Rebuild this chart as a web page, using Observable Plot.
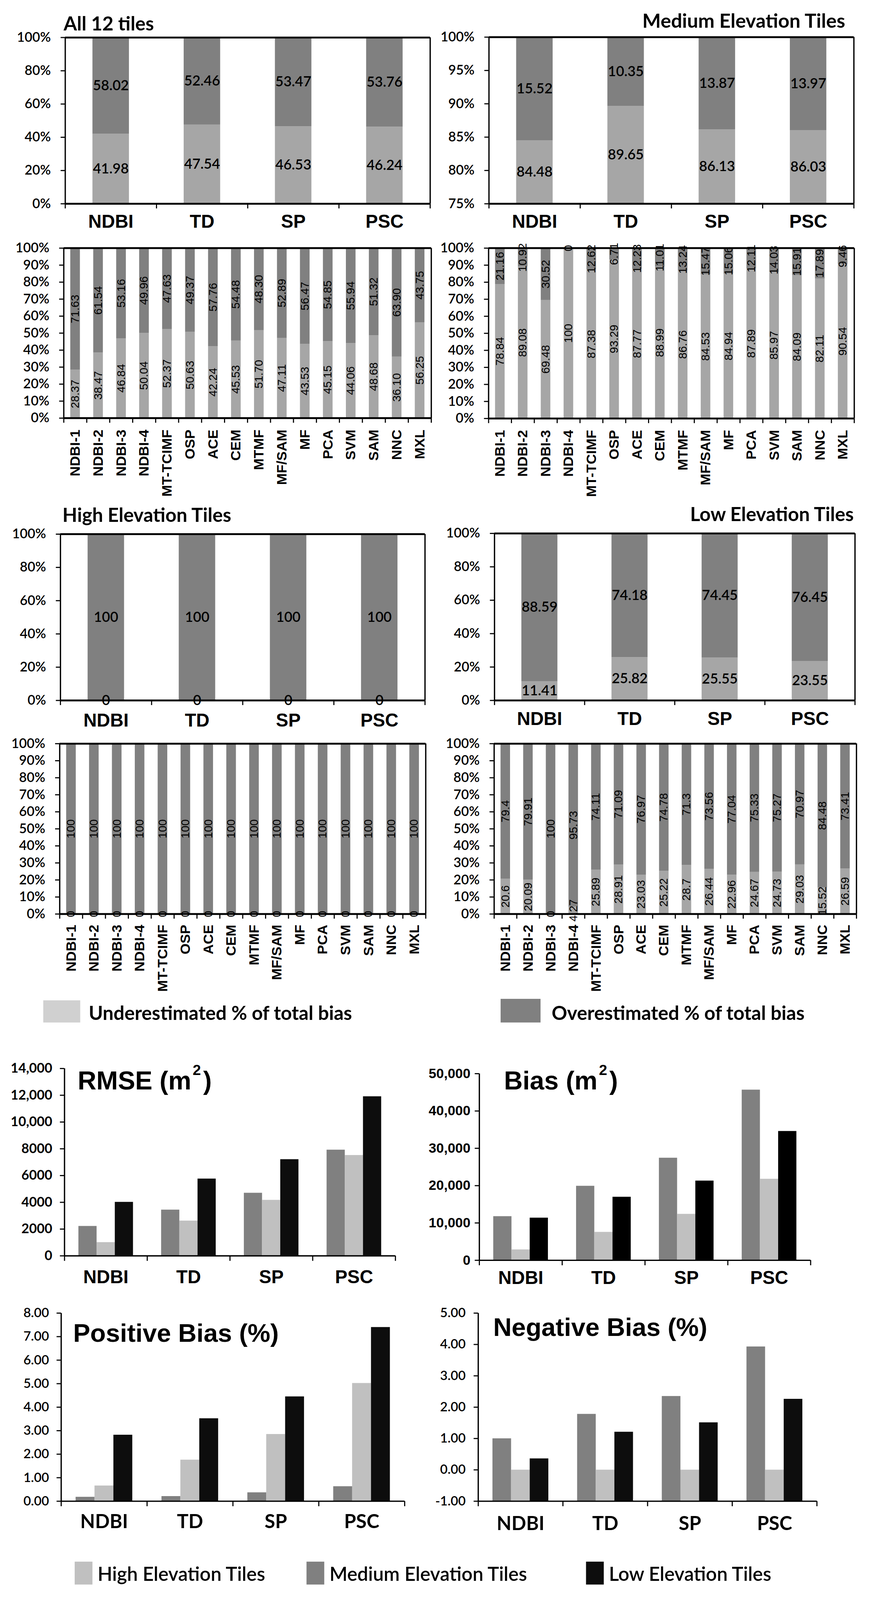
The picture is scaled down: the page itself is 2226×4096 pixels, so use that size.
<!DOCTYPE html>
<html><head><meta charset="utf-8">
<script src="https://cdn.jsdelivr.net/npm/d3@7"></script>
<script src="https://cdn.jsdelivr.net/npm/@observablehq/plot@0.6"></script>
<style>
html,body{margin:0;padding:0;background:#fff;overflow:hidden;}
#viewport{position:relative;width:2226px;height:4096px;overflow:hidden;background:#fff;}
#page{position:absolute;left:0;top:0;width:2351px;height:4326px;transform:scale(0.946);transform-origin:0 0;}
#page > svg{position:absolute;}
</style></head><body>
<div id="viewport"><div id="page"></div></div>
<script>
// ---------------- DATA ----------------
const methods4 = ["NDBI", "TD", "SP", "PSC"];
const methods16 = ["NDBI-1","NDBI-2","NDBI-3","NDBI-4","MT-TCIMF","OSP","ACE","CEM","MTMF","MF/SAM","MF","PCA","SVM","SAM","NNC","MXL"];

// stacked: underestimated / overestimated % of total bias
const allUnder4 = [41.98, 47.54, 46.53, 46.24];
const allOver4  = [58.02, 52.46, 53.47, 53.76];
const medUnder4 = [84.48, 89.65, 86.13, 86.03];
const medOver4  = [15.52, 10.35, 13.87, 13.97];
const highUnder4 = [0, 0, 0, 0];
const highOver4  = [100, 100, 100, 100];
const lowUnder4 = [11.41, 25.82, 25.55, 23.55];
const lowOver4  = [88.59, 74.18, 74.45, 76.45];

const allUnder16 = [28.37,38.47,46.84,50.04,52.37,50.63,42.24,45.53,51.70,47.11,43.53,45.15,44.06,48.68,36.10,56.25];
const allOver16  = [71.63,61.54,53.16,49.96,47.63,49.37,57.76,54.48,48.30,52.89,56.47,54.85,55.94,51.32,63.90,43.75];
const medUnder16 = [78.84,89.08,69.48,100,87.38,93.29,87.77,88.99,86.76,84.53,84.94,87.89,85.97,84.09,82.11,90.54];
const medOver16  = [21.16,10.92,30.52,0,12.62,6.71,12.23,11.01,13.24,15.47,15.06,12.11,14.03,15.91,17.89,9.46];
const highUnder16 = [0,0,0,0,0,0,0,0,0,0,0,0,0,0,0,0];
const highOver16  = [100,100,100,100,100,100,100,100,100,100,100,100,100,100,100,100];
const lowUnder16 = [20.6,20.09,0,4.27,25.89,28.91,23.03,25.22,28.7,26.44,22.96,24.67,24.73,29.03,15.52,26.59];
const lowOver16  = [79.4,79.91,100,95.73,74.11,71.09,76.97,74.78,71.3,73.56,77.04,75.33,75.27,70.97,84.48,73.41];

// grouped: Medium, High, Low elevation tiles
const rmseMedium = [2220, 3440, 4700, 7920];
const rmseHigh   = [1010, 2620, 4170, 7520];
const rmseLow    = [4020, 5760, 7210, 11910];
const biasMedium = [11770, 19910, 27430, 45670];
const biasHigh   = [2860, 7560, 12390, 21790];
const biasLow    = [11370, 16970, 21300, 34590];
const posMedium = [0.18, 0.21, 0.37, 0.63];
const posHigh   = [0.66, 1.76, 2.85, 5.02];
const posLow    = [2.82, 3.52, 4.45, 7.40];
const negMedium = [1.00, 1.78, 2.35, 3.93];
const negHigh   = [0, 0, 0, 0];
const negLow    = [0.36, 1.21, 1.51, 2.26];

// tick values
const ticksPct20 = [0, 20, 40, 60, 80, 100];
const ticksPct10 = [0, 10, 20, 30, 40, 50, 60, 70, 80, 90, 100];
const ticksMed5  = [75, 80, 85, 90, 95, 100];
const ticksRmse  = [0, 2000, 4000, 6000, 8000, 10000, 12000, 14000];
const ticksBias  = [0, 10000, 20000, 30000, 40000, 50000];
const ticksPos   = [0, 1, 2, 3, 4, 5, 6, 7, 8];
const ticksNeg   = [-1, 0, 1, 2, 3, 4, 5];

// text
const panelTitles = ["All 12 tiles", "Medium Elevation Tiles", "High Elevation Tiles", "Low Elevation Tiles"];
const legendTop = ["Underestimated % of total bias", "Overestimated % of total bias"];
const legendBottom = ["High Elevation Tiles", "Medium Elevation Tiles", "Low Elevation Tiles"];

// ---------------- STYLE / LAYOUT ----------------
const C = {under: "#A6A6A6", over: "#808080", underLegend: "#D0D0D0",
           medium: "#808080", high: "#C0C0C0", low: "#0D0D0D"};
const ARIAL = "Liberation Sans, Arial, sans-serif";
const CALI = "Lato, Liberation Sans, sans-serif";

const L = {
  A: {L:176, R:1163, T:101, B:551, catPad:29},
  B: {L:1322, R:2309, T:100, B:551, catPad:29},
  C: {L:172, R:1166, T:671, B:1131, catPad:31},
  D: {L:1321, R:2310, T:671, B:1132, catPad:31},
  E: {L:163, R:1149, T:1445, B:1895, catPad:35},
  F: {L:1337, R:2312, T:1443, B:1895, catPad:31},
  G: {L:161, R:1151, T:2012, B:2473, catPad:29},
  H: {L:1336, R:2316, T:2012, B:2473, catPad:29},
  RMSE: {L:174, R:1069, T:2891, B:3398, catPad:39, tickPad:21},
  BIAS: {L:1296, R:2192, T:2905, B:3410, catPad:29, tickPad:12},
  POS: {L:165, R:1094, T:3553, B:4062, catPad:36, tickPad:21},
  NEG: {L:1293, R:2209, T:3553, B:4062, catPad:41, tickPad:22}
};

const page = document.getElementById("page");

function place(svg, f, mL, mT) {
  svg.style.left = (f.L - mL) + "px";
  svg.style.top = (f.T - mT) + "px";
  page.appendChild(svg);
}

function stackedPanel(cats, under, over, f, yDomain, yTicks, rotated, fmt) {
  const n = cats.length;
  const mL = 170, mR = 20, mT = 60, mB = rotated ? 260 : 110;
  const inset = rotated ? 0.29 : 0.30;
  const lo = yDomain[0];
  const rows = [];
  cats.forEach((c, i) => {
    rows.push({i, kind: "under", y1: 0, y2: under[i], v: under[i]});
    rows.push({i, kind: "over", y1: under[i], y2: under[i] + over[i], v: over[i]});
  });
  rows.forEach(r => { r.ym = (Math.max(r.y1, lo) + r.y2) / 2; r.label = fmt(r.v); });
  const uRows = rows.filter(r => r.kind === "under");
  const oRows = rows.filter(r => r.kind === "over");
  const valueFont = rotated
    ? {fontFamily: ARIAL, fontSize: 31, fontWeight: "normal", rotate: -90}
    : {fontFamily: CALI, fontSize: 38, fontWeight: 600};
  const svg = Plot.plot({
    width: f.R - f.L + mL + mR, height: f.B - f.T + mT + mB,
    marginLeft: mL, marginRight: mR, marginTop: mT, marginBottom: mB,
    x: {domain: [0, n]},
    y: {domain: yDomain},
    style: {overflow: "visible", background: "transparent", color: "#000"},
    marks: [
      Plot.rectY(uRows, {x1: r => r.i + inset, x2: r => r.i + 1 - inset, y1: "y1", y2: "y2", fill: C.under, clip: true}),
      Plot.rectY(oRows, {x1: r => r.i + inset, x2: r => r.i + 1 - inset, y1: "y1", y2: "y2", fill: C.over, clip: true}),
      Plot.ruleY(yDomain, {strokeWidth: 5}),
      Plot.ruleX([0, n], {strokeWidth: 3.5}),
      Plot.axisY(yTicks, {tickSize: 12, tickPadding: 27, strokeWidth: 3, tickFormat: d => d + "%",
        fontFamily: CALI, fontSize: 36, fontWeight: 600, label: null}),
      Plot.axisX(d3.range(n + 1), {tickSize: 13, strokeWidth: 3, fill: "none", label: null}),
      Plot.axisX(d3.range(n).map(i => i + 0.5), {tickSize: 0, tickPadding: f.catPad,
        tickFormat: d => cats[Math.floor(d)], tickRotate: rotated ? -90 : 0,
        fontFamily: ARIAL, fontWeight: "bold", fontSize: rotated ? 38 : 50, label: null}),
      Plot.text(rows, {x: r => r.i + 0.5, y: "ym", text: "label", fill: "#000", ...valueFont})
    ]
  });
  place(svg, f, mL, mT);
}

function groupedPanel(cats, series, f, yDomain, yTicks, tickFmt, tickFont, catFont) {
  const n = cats.length;
  const mL = 180, mR = 20, mT = 20, mB = 120;
  const base = yDomain[0];
  const rows = [];
  series.forEach((s, k) => s.values.forEach((v, i) => {
    rows.push({k, i, x1: i + 0.17 + k * 0.22, x2: i + 0.17 + (k + 1) * 0.22, y1: base, y2: v, fill: s.color});
  }));
  const svg = Plot.plot({
    width: f.R - f.L + mL + mR, height: f.B - f.T + mT + mB,
    marginLeft: mL, marginRight: mR, marginTop: mT, marginBottom: mB,
    x: {domain: [0, n]},
    y: {domain: yDomain},
    style: {overflow: "visible", background: "transparent", color: "#000"},
    marks: [
      ...series.map((s, k) => Plot.rectY(rows.filter(r => r.k === k),
        {x1: "x1", x2: "x2", y1: "y1", y2: "y2", fill: s.color})),
      Plot.ruleX([0], {strokeWidth: 3.5}),
      Plot.ruleY([base], {strokeWidth: 3.5}),
      Plot.axisY(yTicks, {tickSize: 12, tickPadding: f.tickPad, strokeWidth: 3, tickFormat: tickFmt, label: null, ...tickFont}),
      Plot.axisX(d3.range(n + 1), {tickSize: 14, strokeWidth: 3, fill: "none", label: null}),
      Plot.axisX(d3.range(n).map(i => i + 0.5), {tickSize: 0, tickPadding: f.catPad,
        tickFormat: d => cats[Math.floor(d)], label: null, ...catFont})
    ]
  });
  place(svg, f, mL, mT);
}

const fmtGeneral = v => String(v);
const fmtFixed2 = v => v.toFixed(2);

stackedPanel(methods4, allUnder4, allOver4, L.A, [0, 100], ticksPct20, false, fmtGeneral);
stackedPanel(methods4, medUnder4, medOver4, L.B, [75, 100], ticksMed5, false, fmtGeneral);
stackedPanel(methods16, allUnder16, allOver16, L.C, [0, 100], ticksPct10, true, fmtFixed2);
stackedPanel(methods16, medUnder16, medOver16, L.D, [0, 100], ticksPct10, true, fmtGeneral);
stackedPanel(methods4, highUnder4, highOver4, L.E, [0, 100], ticksPct20, false, fmtGeneral);
stackedPanel(methods4, lowUnder4, lowOver4, L.F, [0, 100], ticksPct20, false, fmtGeneral);
stackedPanel(methods16, highUnder16, highOver16, L.G, [0, 100], ticksPct10, true, fmtGeneral);
stackedPanel(methods16, lowUnder16, lowOver16, L.H, [0, 100], ticksPct10, true, fmtGeneral);

const arialCat = {fontFamily: ARIAL, fontWeight: "bold", fontSize: 50};
const caliCat = {fontFamily: CALI, fontWeight: "bold", fontSize: 52};

groupedPanel(methods4,
  [{values: rmseMedium, color: C.medium}, {values: rmseHigh, color: C.high}, {values: rmseLow, color: C.low}],
  L.RMSE, [0, 14000], ticksRmse, d => d >= 10000 ? d3.format(",")(d) : String(d),
  {fontFamily: CALI, fontWeight: "bold", fontSize: 36}, arialCat);
groupedPanel(methods4,
  [{values: biasMedium, color: C.medium}, {values: biasHigh, color: C.high}, {values: biasLow, color: "#000"}],
  L.BIAS, [0, 50000], ticksBias, d => d === 0 ? "0" : d3.format(",")(d),
  {fontFamily: ARIAL, fontWeight: "bold", fontSize: 37}, arialCat);
groupedPanel(methods4,
  [{values: posMedium, color: C.medium}, {values: posHigh, color: C.high}, {values: posLow, color: C.low}],
  L.POS, [0, 8], ticksPos, d => d.toFixed(2),
  {fontFamily: CALI, fontWeight: 600, fontSize: 35}, caliCat);
groupedPanel(methods4,
  [{values: negMedium, color: C.medium}, {values: negHigh, color: C.high}, {values: negLow, color: C.low}],
  L.NEG, [-1, 5], ticksNeg, d => d.toFixed(2),
  {fontFamily: CALI, fontWeight: 600, fontSize: 35}, caliCat);

// ---------------- OVERLAY: titles & legends ----------------
const ov = d3.select(page).append("svg")
  .attr("width", 2351).attr("height", 4326)
  .style("left", "0px").style("top", "0px").style("overflow", "visible").style("pointer-events", "none");

function txt(x, y, s, size, family, weight, anchor) {
  return ov.append("text").attr("x", x).attr("y", y).attr("font-size", size)
    .attr("font-family", family).attr("font-weight", weight)
    .attr("text-anchor", anchor || "start").attr("fill", "#000").text(s);
}
txt(172, 82, panelTitles[0], 52, CALI, "bold");
txt(2286, 75, panelTitles[1], 53, CALI, "bold", "end");
txt(169, 1412, panelTitles[2], 52, CALI, "bold");
txt(2309, 1410, panelTitles[3], 52, CALI, "bold", "end");

function supTitle(x, y, main) {
  const t = ov.append("text").attr("x", x).attr("y", y).attr("font-size", 70)
    .attr("font-family", ARIAL).attr("font-weight", "bold").attr("fill", "#000");
  t.append("tspan").text(main + " (m");
  t.append("tspan").attr("font-size", 40).attr("dy", -39).attr("dx", 4).text("2");
  t.append("tspan").attr("dy", 39).attr("dx", 6).text(")");
}
supTitle(210, 2948, "RMSE");
supTitle(1363, 2948, "Bias");
txt(198, 3631, "Positive Bias (%)", 69, ARIAL, "bold");
txt(1334, 3615, "Negative Bias (%)", 69, ARIAL, "bold");

// legend 1
ov.append("rect").attr("x", 117).attr("y", 2707).attr("width", 100).attr("height", 60).attr("fill", C.underLegend);
txt(240, 2760, legendTop[0], 52, CALI, "bold");
ov.append("rect").attr("x", 1354).attr("y", 2703).attr("width", 108).attr("height", 64).attr("fill", C.over);
txt(1492, 2760, legendTop[1], 52, CALI, "bold");

// legend 2
const lg2 = [{x: 202, c: C.high}, {x: 829, c: C.medium}, {x: 1585, c: C.low}];
lg2.forEach((d, k) => {
  ov.append("rect").attr("x", d.x).attr("y", 4226).attr("width", 48).attr("height", 62).attr("fill", d.c);
  txt(d.x + 62, 4278, legendBottom[k], 52, CALI, 600);
});
</script>
</body></html>
